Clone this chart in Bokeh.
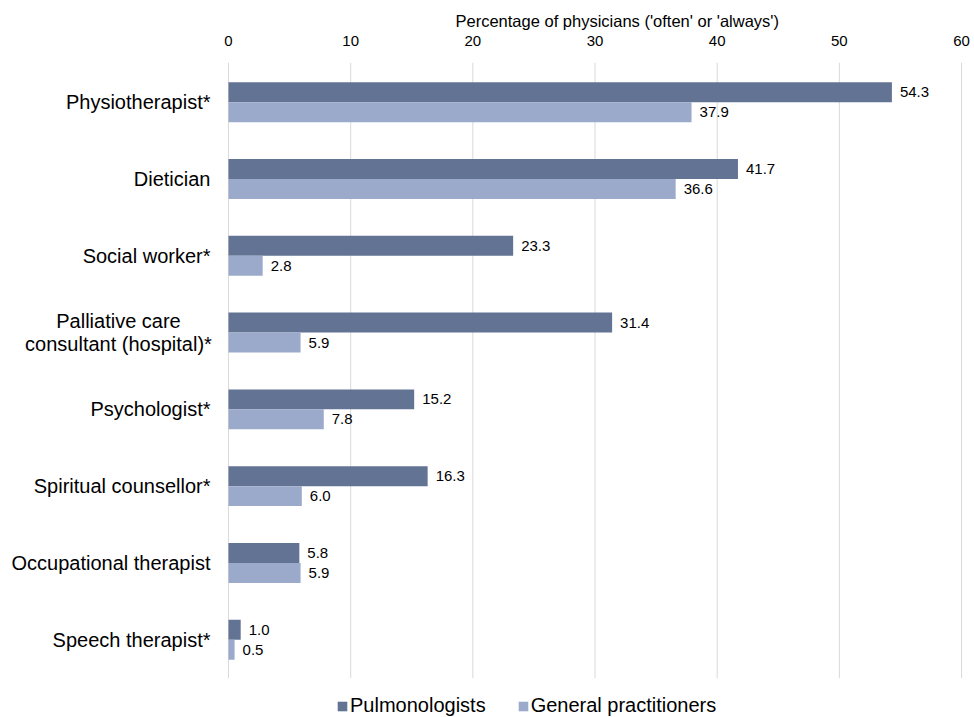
from bokeh.plotting import figure
from bokeh.models import ColumnDataSource, Range1d, Legend, LegendItem, FixedTicker
from bokeh.core.properties import value
from bokeh.embed import file_html
from bokeh.resources import INLINE

categories = ["Physiotherapist*", "Dietician", "Social worker*",
              "Palliative care consultant (hospital)*", "Psychologist*",
              "Spiritual counsellor*", "Occupational therapist", "Speech therapist*"]
wrapped_category = "Palliative care consultant (hospital)*"
wrapped_lines = ["Palliative care", "consultant (hospital)*"]
pulmonologists = [54.3, 41.7, 23.3, 31.4, 15.2, 16.3, 5.8, 1.0]
general_practitioners = [37.9, 36.6, 2.8, 5.9, 7.8, 6.0, 5.9, 0.5]
x_ticks = [0, 10, 20, 30, 40, 50, 60]
x_title = "Percentage of physicians ('often' or 'always')"
series_names = ["Pulmonologists", "General practitioners"]

DARK = "#637394"
LIGHT = "#9BAACB"
GRID = "#D9D9D9"
FONT = "Liberation Sans"

n = len(categories)
ypos = [n - i for i in range(n)]          # first category on top
OFF = 0.13                                  # half bar height
Y_START, Y_END = -0.013, 8.517
src = ColumnDataSource(dict(
    cat=categories,
    y_p=[y + OFF for y in ypos],
    y_g=[y - OFF for y in ypos],
    pul=pulmonologists,
    gp=general_practitioners,
    pul_txt=["%.1f" % v for v in pulmonologists],
    gp_txt=["%.1f" % v for v in general_practitioners],
))

p = figure(frame_width=974, frame_height=655, output_backend="svg", toolbar_location=None,
           x_range=Range1d(-18.66, 61.06), y_range=Range1d(Y_START, Y_END),
           x_axis_location="above", y_axis_location=None,
           min_border_left=0, min_border_right=0, min_border_top=62, min_border_bottom=0)
p.outline_line_color = None
p.xgrid.grid_line_color = None
p.ygrid.grid_line_color = None

# vertical gridlines over the category slots only
p.segment(x0=x_ticks, x1=x_ticks, y0=[0.5] * len(x_ticks), y1=[Y_END] * len(x_ticks),
          line_color=GRID, line_width=1)

r1 = p.hbar(y="y_p", right="pul", left=0, height=2 * OFF, source=src,
            fill_color=DARK, line_color=None)
r2 = p.hbar(y="y_g", right="gp", left=0, height=2 * OFF, source=src,
            fill_color=LIGHT, line_color=None)

p.text(x="pul", y="y_p", text="pul_txt", source=src, x_offset=8,
       text_baseline="middle", text_align="left",
       text_font=value(FONT), text_font_size="15px", text_color="#000000")
p.text(x="gp", y="y_g", text="gp_txt", source=src, x_offset=8,
       text_baseline="middle", text_align="left",
       text_font=value(FONT), text_font_size="15px", text_color="#000000")

# category labels
single = [(c, y) for c, y in zip(categories, ypos) if c != wrapped_category]
p.text(x=[0] * len(single), y=[y for _, y in single], text=[c for c, _ in single],
       x_offset=-18, text_baseline="middle", text_align="right",
       text_font=value(FONT), text_font_size="20px", text_color="#000000")
wy = ypos[categories.index(wrapped_category)]
p.text(x=[0, 0], y=[wy, wy], text=wrapped_lines, x_offset=-110, y_offset=[-11.5, 11.5],
       text_baseline="middle", text_align="center",
       text_font=value(FONT), text_font_size="20px", text_color="#000000")

xa = p.xaxis[0]
xa.ticker = FixedTicker(ticks=x_ticks)
xa.major_label_text_font = FONT
xa.major_label_text_font_size = "15px"
xa.major_label_text_color = "#000000"
xa.major_label_standoff = 11
xa.axis_line_color = None
xa.major_tick_line_color = None
xa.minor_tick_line_color = None

p.title.text = x_title
p.title.align = "left"
p.title.offset = 455
p.title.text_font = FONT
p.title.text_font_size = "16.5px"
p.title.text_font_style = "normal"
p.title.text_color = "#000000"
p.title.standoff = 6

legend = Legend(items=[LegendItem(label=series_names[0], renderers=[r1]),
                       LegendItem(label=series_names[1], renderers=[r2])],
                orientation="horizontal", location=(336, 0),
                glyph_width=12, glyph_height=12, label_standoff=2, spacing=31,
                padding=0, margin=0, border_line_color=None, background_fill_alpha=0,
                label_text_font=FONT, label_text_font_size="20px", label_text_color="#000000")
p.add_layout(legend, "center")

open("out.html", "w").write(file_html(p, INLINE))
